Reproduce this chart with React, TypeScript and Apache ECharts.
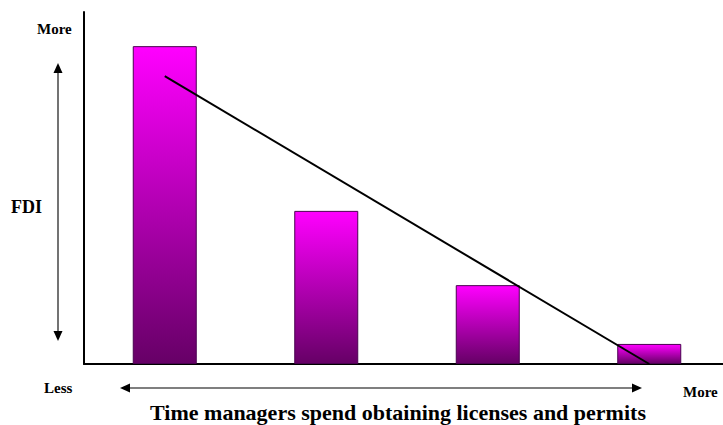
import React, { useEffect, useRef } from "react";
import * as echarts from "echarts";

const categories = ["Least time", "Less time", "More time", "Most time"];
const fdiValues = [90.3, 43.5, 22.4, 5.7];
const trendPoints: [number, number][] = [
  [0, 81.8],
  [3, 0],
];
const yMin = 0;
const yMax = 100;

const SERIF = "'Liberation Serif', 'Times New Roman', serif";

export default function App() {
  const ref = useRef<HTMLDivElement>(null);
  useEffect(() => {
    if (!ref.current) return;
    const chart = echarts.init(ref.current, undefined, { renderer: "svg" });
    const textStyle = (extra: any) => ({
      fontFamily: SERIF,
      fontWeight: "bold",
      fill: "#000",
      ...extra,
    });
    chart.setOption({
      animation: false,
      backgroundColor: "#fff",
      grid: { left: 84, top: 12, width: 646, height: 352, containLabel: false },
      xAxis: {
        type: "category",
        data: categories,
        axisLine: { show: true, lineStyle: { color: "#000", width: 2 } },
        axisTick: { show: false },
        axisLabel: { show: false },
        splitLine: { show: false },
      },
      yAxis: {
        type: "value",
        min: yMin,
        max: yMax,
        axisLine: { show: true, lineStyle: { color: "#000", width: 2 } },
        axisTick: { show: false },
        axisLabel: { show: false },
        splitLine: { show: false },
      },
      series: [
        {
          type: "bar",
          data: fdiValues,
          barWidth: 64,
          itemStyle: {
            color: new echarts.graphic.LinearGradient(0, 0, 0, 1, [
              { offset: 0, color: "#FF00FF" },
              { offset: 1, color: "#660066" },
            ]),
            borderColor: "#4a0050",
            borderWidth: 1,
          },
        },
        {
          type: "line",
          data: trendPoints,
          symbol: "none",
          lineStyle: { color: "#000", width: 2 },
          z: 5,
        },
      ],
      graphic: [
        // vertical arrow
        {
          type: "line",
          shape: { x1: 58, y1: 72, x2: 58, y2: 332 },
          style: { stroke: "#444", lineWidth: 1.5 },
        },
        {
          type: "polygon",
          shape: { points: [[58, 63], [53.5, 73], [62.5, 73]] },
          style: { fill: "#000" },
        },
        {
          type: "polygon",
          shape: { points: [[58, 341], [53.5, 331], [62.5, 331]] },
          style: { fill: "#000" },
        },
        // horizontal arrow
        {
          type: "line",
          shape: { x1: 128, y1: 388, x2: 634, y2: 388 },
          style: { stroke: "#000", lineWidth: 1.2 },
        },
        {
          type: "polygon",
          shape: { points: [[120, 388], [130, 383.5], [130, 392.5]] },
          style: { fill: "#000" },
        },
        {
          type: "polygon",
          shape: { points: [[642, 388], [632, 383.5], [632, 392.5]] },
          style: { fill: "#000" },
        },
        {
          type: "text",
          x: 37,
          y: 29,
          style: textStyle({ text: "More", fontSize: 15, verticalAlign: "middle", align: "left" }),
        },
        {
          type: "text",
          x: 11,
          y: 207,
          style: textStyle({ text: "FDI", fontSize: 18, verticalAlign: "middle", align: "left" }),
        },
        {
          type: "text",
          x: 44,
          y: 388,
          style: textStyle({ text: "Less", fontSize: 15, verticalAlign: "middle", align: "left" }),
        },
        {
          type: "text",
          x: 683,
          y: 392,
          style: textStyle({ text: "More", fontSize: 15, verticalAlign: "middle", align: "left" }),
        },
        {
          type: "text",
          x: 398,
          y: 412,
          style: textStyle({
            text: "Time managers spend obtaining licenses and permits",
            fontSize: 22,
            verticalAlign: "middle",
            align: "center",
          }),
        },
      ],
    });
    return () => chart.dispose();
  }, []);
  return (
    <div
      ref={ref}
      style={{ position: "fixed", left: 0, top: 0, width: 740, height: 425 }}
    />
  );
}
